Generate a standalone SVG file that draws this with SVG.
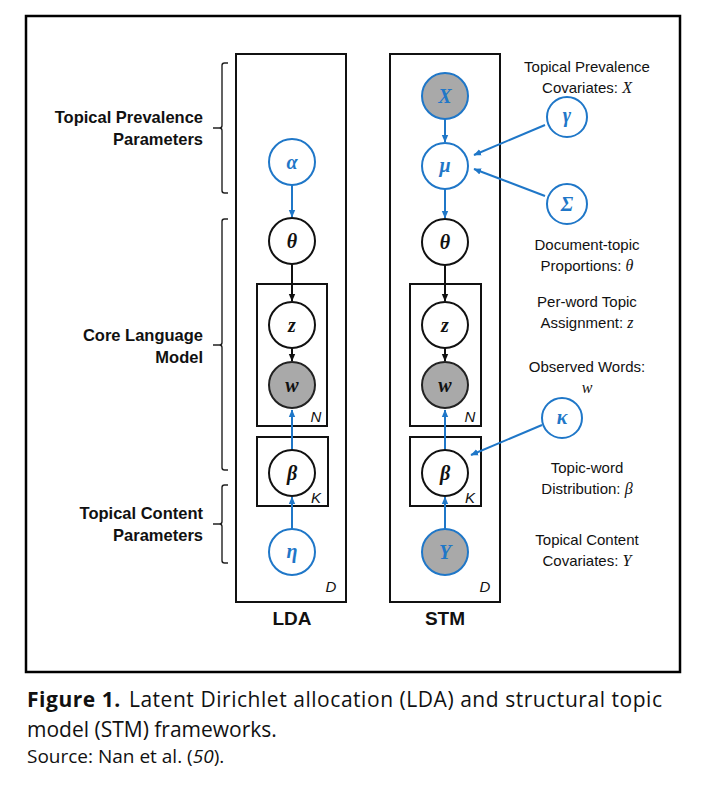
<svg xmlns="http://www.w3.org/2000/svg" width="705" height="798" viewBox="0 0 705 798">
<defs>
<marker id="ab" markerWidth="8" markerHeight="8" refX="7" refY="4" orient="auto" markerUnits="userSpaceOnUse"><path d="M0,0.8 L7.5,4 L0,7.2 Z" fill="#1f77c8"/></marker>
<marker id="ak" markerWidth="8" markerHeight="8" refX="7" refY="4" orient="auto" markerUnits="userSpaceOnUse"><path d="M0,0.8 L7.5,4 L0,7.2 Z" fill="#111"/></marker>
</defs>
<style>
.frame{fill:none;stroke:#000;stroke-width:2.5}
.plate{fill:none;stroke:#111;stroke-width:2}
.nb{fill:#fff;stroke:#111;stroke-width:2}
.nbg{fill:#a9a9a9;stroke:#222;stroke-width:2}
.nl{fill:#fff;stroke:#1f77c8;stroke-width:2}
.nlg{fill:#a9a9a9;stroke:#1f77c8;stroke-width:2}
.sym{font-family:"Liberation Serif",serif;font-style:italic;font-weight:bold;font-size:20px;text-anchor:middle}
.sk{fill:#111}
.sl{fill:#1f77c8}
.cb{stroke:#1f77c8;stroke-width:2;fill:none;marker-end:url(#ab)}
.ck{stroke:#111;stroke-width:2;fill:none;marker-end:url(#ak)}
.brace{fill:none;stroke:#222;stroke-width:1.4}
.ll{font-family:"Liberation Sans",sans-serif;font-weight:bold;font-size:16.5px;text-anchor:end;fill:#111}
.rl{font-family:"Liberation Sans",sans-serif;font-size:15px;text-anchor:middle;fill:#111}
.mi{font-family:"Liberation Serif",serif;font-style:italic;font-size:16px}
.pl{font-family:"Liberation Sans",sans-serif;font-style:italic;font-size:15px;fill:#111;text-anchor:middle}
.title{font-family:"Liberation Sans",sans-serif;font-weight:bold;font-size:19px;text-anchor:middle;fill:#111}
.cap{font-family:"Open Sans",sans-serif;font-size:21px;fill:#111}
.src{font-family:"Open Sans",sans-serif;font-size:19px;fill:#111}
</style>
<rect class="frame" x="26" y="16" width="654" height="656"/>
<g id="plates">
<rect class="plate" x="236" y="54" width="110" height="548"/>
<rect class="plate" x="257" y="284" width="70" height="142"/>
<rect class="plate" x="257" y="437" width="71" height="69"/>
<rect class="plate" x="390" y="54" width="110" height="548"/>
<rect class="plate" x="410" y="284" width="71" height="142"/>
<rect class="plate" x="410" y="437" width="71" height="69"/>
<text class="pl" x="316" y="422">N</text>
<text class="pl" x="316" y="503">K</text>
<text class="pl" x="331" y="592">D</text>
<text class="pl" x="470" y="422">N</text>
<text class="pl" x="470" y="503">K</text>
<text class="pl" x="485" y="592">D</text>
</g>
<g id="connectors">
<line class="cb" x1="292" y1="185" x2="292" y2="217"/>
<line class="ck" x1="292" y1="264" x2="292" y2="301"/>
<line class="ck" x1="292" y1="348" x2="292" y2="361"/>
<line class="cb" x1="292" y1="450" x2="292" y2="410"/>
<line class="cb" x1="292" y1="529" x2="292" y2="497"/>
<line class="cb" x1="445" y1="119" x2="445" y2="142"/>
<line class="cb" x1="445" y1="189" x2="445" y2="218"/>
<line class="ck" x1="445" y1="265" x2="445" y2="301"/>
<line class="ck" x1="445" y1="348" x2="445" y2="361"/>
<line class="cb" x1="445" y1="450" x2="445" y2="410"/>
<line class="cb" x1="445" y1="529" x2="445" y2="497"/>
<line class="cb" x1="545" y1="125" x2="474" y2="155"/>
<line class="cb" x1="545" y1="196" x2="474" y2="169"/>
<line class="cb" x1="542" y1="425" x2="471" y2="455"/>
</g>
<g id="n-alpha"><circle class="nl" cx="292" cy="162" r="23"/><text class="sym sl" x="292" y="169">α</text></g>
<g id="n-theta1"><circle class="nb" cx="292" cy="241" r="23"/><text class="sym sk" x="292" y="248">θ</text></g>
<g id="n-z1"><circle class="nb" cx="292" cy="325" r="23"/><text class="sym sk" x="292" y="332">z</text></g>
<g id="n-w1"><circle class="nbg" cx="292" cy="385" r="23"/><text class="sym sk" x="292" y="392">w</text></g>
<g id="n-beta1"><circle class="nb" cx="292" cy="473" r="23"/><text class="sym sk" x="292" y="480">β</text></g>
<g id="n-eta"><circle class="nl" cx="292" cy="552" r="23"/><text class="sym sl" x="292" y="558">η</text></g>
<g id="n-X"><circle class="nlg" cx="445" cy="96" r="23"/><text class="sym sl" x="445" y="103">X</text></g>
<g id="n-mu"><circle class="nl" cx="445" cy="166" r="23"/><text class="sym sl" x="445" y="172">μ</text></g>
<g id="n-theta2"><circle class="nb" cx="445" cy="242" r="23"/><text class="sym sk" x="445" y="249">θ</text></g>
<g id="n-z2"><circle class="nb" cx="445" cy="325" r="23"/><text class="sym sk" x="445" y="332">z</text></g>
<g id="n-w2"><circle class="nbg" cx="445" cy="385" r="23"/><text class="sym sk" x="445" y="392">w</text></g>
<g id="n-beta2"><circle class="nb" cx="445" cy="473" r="23"/><text class="sym sk" x="445" y="480">β</text></g>
<g id="n-Y"><circle class="nlg" cx="445" cy="552" r="23"/><text class="sym sl" x="445" y="559">Y</text></g>
<g id="n-gamma"><circle class="nl" cx="567" cy="117" r="20"/><text class="sym sl" x="567" y="122">γ</text></g>
<g id="n-Sigma"><circle class="nl" cx="567" cy="204" r="20"/><text class="sym sl" x="567" y="211">Σ</text></g>
<g id="n-kappa"><circle class="nl" cx="562" cy="418" r="20"/><text class="sym sl" x="562" y="424">κ</text></g>
<g id="braces">
<path class="brace" d="M228,63 L224.5,63 Q222,63 222,65.5 L222,125.5 Q222,128 219.5,128 L213,128 M219.5,128 Q222,128 222,130.5 L222,190.5 Q222,193 224.5,193 L228,193"/>
<path class="brace" d="M228,219 L224.5,219 Q222,219 222,221.5 L222,342.5 Q222,345 219.5,345 L213,345 M219.5,345 Q222,345 222,347.5 L222,467.5 Q222,470 224.5,470 L228,470"/>
<path class="brace" d="M228,485 L224.5,485 Q222,485 222,487.5 L222,521.5 Q222,524 219.5,524 L213,524 M219.5,524 Q222,524 222,526.5 L222,560.5 Q222,563 224.5,563 L228,563"/>
</g>
<g id="left-labels">
<text class="ll" x="203" y="123">Topical Prevalence</text>
<text class="ll" x="203" y="145">Parameters</text>
<text class="ll" x="203" y="341">Core Language</text>
<text class="ll" x="203" y="363">Model</text>
<text class="ll" x="203" y="519">Topical Content</text>
<text class="ll" x="203" y="541">Parameters</text>
</g>
<g id="right-labels">
<text class="rl" x="587" y="72">Topical Prevalence</text>
<text class="rl" x="587" y="93">Covariates: <tspan class="mi">X</tspan></text>
<text class="rl" x="587" y="250">Document-topic</text>
<text class="rl" x="587" y="271">Proportions: <tspan class="mi">θ</tspan></text>
<text class="rl" x="587" y="307">Per-word Topic</text>
<text class="rl" x="587" y="328">Assignment: <tspan class="mi">z</tspan></text>
<text class="rl" x="587" y="372">Observed Words:</text>
<text class="rl" x="587" y="393"><tspan class="mi">w</tspan></text>
<text class="rl" x="587" y="473">Topic-word</text>
<text class="rl" x="587" y="494">Distribution: <tspan class="mi">β</tspan></text>
<text class="rl" x="587" y="545">Topical Content</text>
<text class="rl" x="587" y="566">Covariates: <tspan class="mi">Y</tspan></text>
</g>
<text class="title" x="292" y="625">LDA</text>
<text class="title" x="445" y="625">STM</text>
<g id="caption">
<text class="cap" x="27" y="707" textLength="635" lengthAdjust="spacing"><tspan font-weight="bold">Figure 1.</tspan><tspan dx="8">Latent Dirichlet allocation (LDA) and structural topic</tspan></text>
<text class="cap" x="27" y="737">model (STM) frameworks.</text>
<text class="src" x="27" y="763">Source: Nan et al. (<tspan font-style="italic">50</tspan>).</text>
</g>
</svg>
